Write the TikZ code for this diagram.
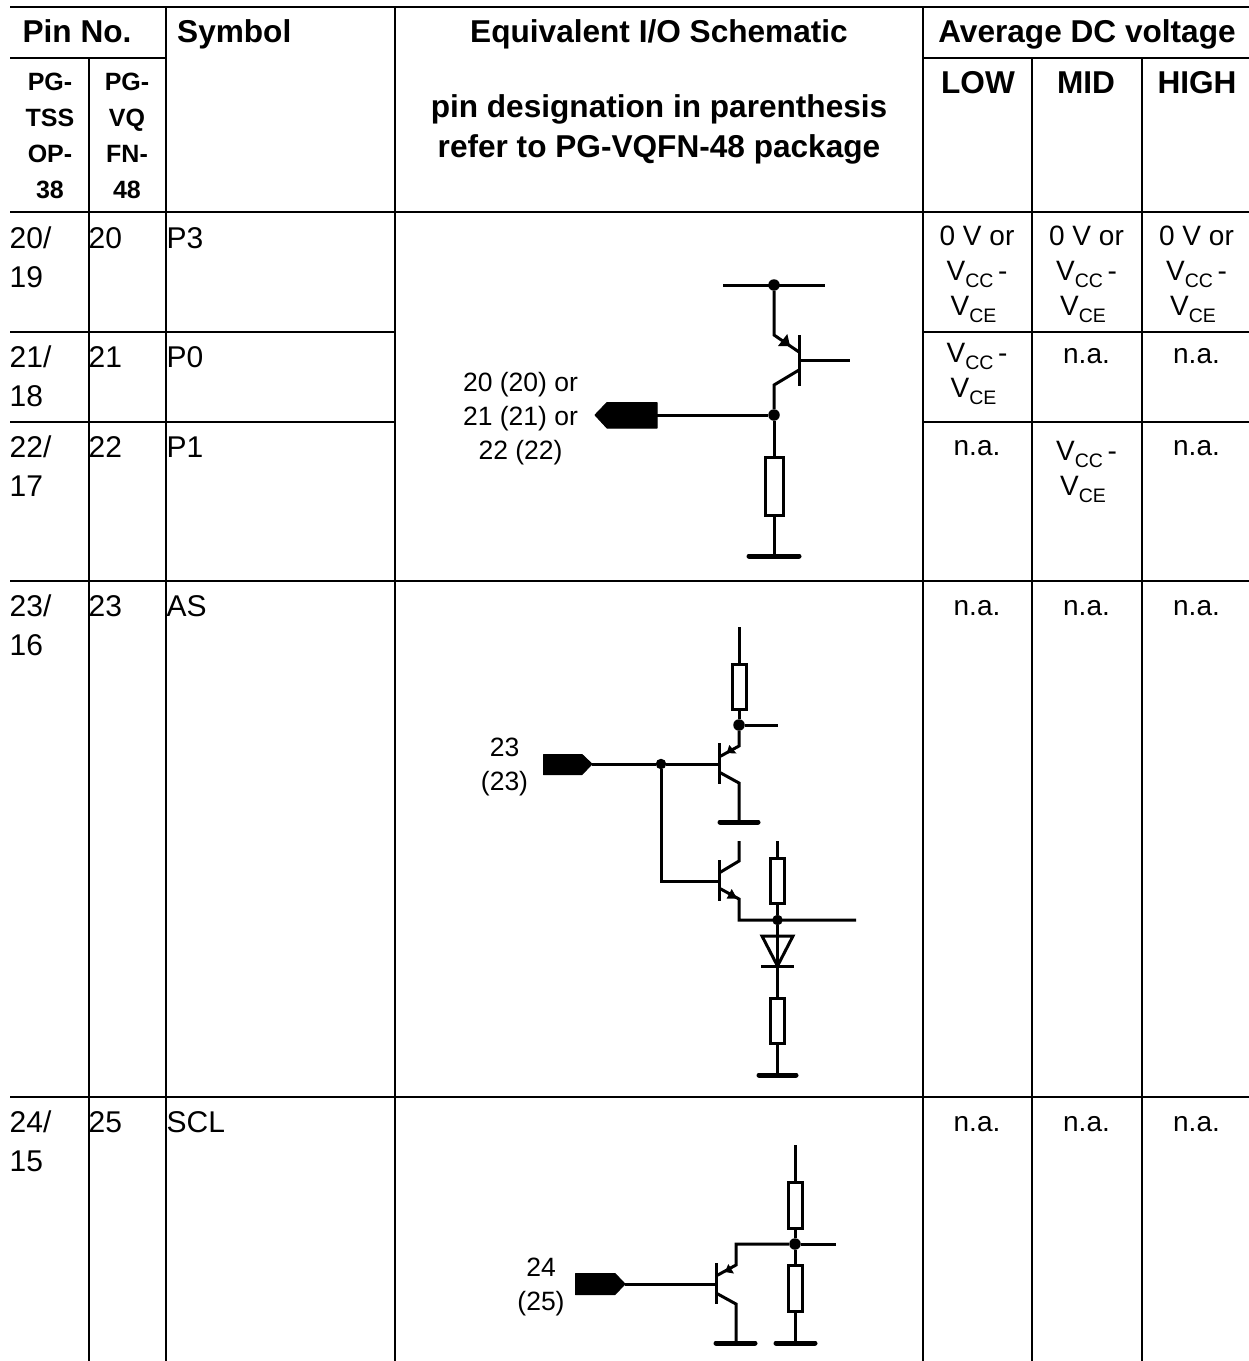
\documentclass[tikz,border=0pt]{standalone}
\usepackage{fontspec}
\setmainfont{Liberation Sans}
\usetikzlibrary{positioning}
\tikzset{
  wire/.style={line width=3pt},
  gridline/.style={line width=2.6pt},
  gnd/.style={line width=5pt,line cap=round},
  res/.style={draw,line width=3pt,fill=white,inner sep=0pt},
  junction/.style={circle,fill=black,inner sep=0pt,minimum size=11.5pt},
  smalljunction/.style={circle,fill=black,inner sep=0pt,minimum size=10.5pt},
  pinflag/.style={fill=black,draw=black,line width=1pt,line join=round},
  cell/.style={anchor=base west,inner sep=0pt,align=left,font=\fontsize{30}{38.7}\selectfont},
  volt/.style={anchor=base,inner sep=0pt,align=center,font=\fontsize{28}{35}\selectfont},
  headbig/.style={anchor=base,inner sep=0pt,align=center,font=\fontsize{31.6}{40}\selectfont\bfseries},
  headsmall/.style={anchor=base,inner sep=0pt,align=center,font=\fontsize{25}{35.7}\selectfont\bfseries},
  pinlabel/.style={anchor=base,inner sep=0pt,align=center,font=\fontsize{26.5}{34}\selectfont},
}
\newcommand{\subtxt}[1]{\raisebox{-7pt}{\fontsize{19.5}{20}\selectfont #1}}
\newcommand{\vcc}{V\subtxt{CC}\,-}
\newcommand{\vce}{V\subtxt{CE}\hspace*{7pt}}
\begin{document}
\begin{tikzpicture}[x=1pt,y=-1pt]
\useasboundingbox (0,0) rectangle (1249,1361);
% table
\foreach \yy in {7,212,581,1097} \draw[gridline] (10,\yy) -- (1249,\yy);
\foreach \yy in {332,422} {
  \draw[gridline] (10,\yy) -- (395,\yy);
  \draw[gridline] (923,\yy) -- (1249,\yy);
}
\draw[gridline] (10,58) -- (166,58);
\draw[gridline] (923,58) -- (1249,58);
\draw[gridline] (89,58) -- (89,1361);
\foreach \xx in {166,395,923} \draw[gridline] (\xx,7) -- (\xx,1361);
\foreach \xx in {1032,1142} \draw[gridline] (\xx,58) -- (\xx,1361);
% header
\node[headbig] (pinno) at (77,42) {Pin No.};
\node[headbig,anchor=base west] (symbol) at (177,42) {Symbol};
\node[headbig] (schem) at (659,42) {Equivalent I/O Schematic};
\node[headbig] (note) at (659,157) {pin designation in parenthesis\\refer to PG-VQFN-48 package};
\node[headbig] (avg) at (1087,42) {Average DC voltage};
\node[headbig] (low) at (978,93) {LOW};
\node[headbig] (mid) at (1086,93) {MID};
\node[headbig] (high) at (1197,93) {HIGH};
\node[headsmall] (tssop) at (50,198) {PG-\\TSS\\OP-\\38};
\node[headsmall] (vqfn) at (127,198) {PG-\\VQ\\FN-\\48};
% rows
\node[cell] (r1a) at (9.5,287) {20/\\19};
\node[cell] (r1b) at (88.5,248) {20};
\node[cell] (r1c) at (166.5,248) {P3};
\node[cell] (r2a) at (9.5,406) {21/\\18};
\node[cell] (r2b) at (88.5,367) {21};
\node[cell] (r2c) at (166.5,367) {P0};
\node[cell] (r3a) at (9.5,496) {22/\\17};
\node[cell] (r3b) at (88.5,457) {22};
\node[cell] (r3c) at (166.5,457) {P1};
\node[cell] (r4a) at (9.5,655) {23/\\16};
\node[cell] (r4b) at (88.5,616) {23};
\node[cell] (r4c) at (166.5,616) {AS};
\node[cell] (r5a) at (9.5,1171) {24/\\15};
\node[cell] (r5b) at (88.5,1132) {25};
\node[cell] (r5c) at (166.5,1132) {SCL};
% voltages
\foreach \xx/\nm in {977/a,1086.5/b,1196.5/c}
  \node[volt] (v1\nm) at (\xx,315) {0 V or\\\vcc\\\vce};
\node[volt] (v2a) at (977,397) {\vcc\\\vce};
\node[volt] (v2b) at (1086.5,363) {n.a.};
\node[volt] (v2c) at (1196.5,363) {n.a.};
\node[volt] (v3a) at (977,455) {n.a.};
\node[volt] (v3b) at (1086.5,495) {\vcc\\\vce};
\node[volt] (v3c) at (1196.5,455) {n.a.};
\foreach \xx/\nm in {977/a,1086.5/b,1196.5/c} {
  \node[volt] (v4\nm) at (\xx,615) {n.a.};
  \node[volt] (v5\nm) at (\xx,1131) {n.a.};
}
% circuit P3 P0 P1
\node[junction] (d1) at (774,285) {};
\node[junction] (d2) at (774,415) {};
\coordinate (railL) at (723,285);
\coordinate (railR) at (825,285);
\draw[wire] (railL) -- (railR);
\draw[wire] (d1) -- (774,335) -- (799,352);
\draw[wire] (799,335) -- (799,386);
\draw[wire] (799,360) -- (850,360);
\draw[wire] (799,370) -- (774,385) -- (d2);
\fill (787.3,334) -- (778,346) -- (790,346) -- cycle;
\draw[pinflag] (595,415) -- (607,402.5) -- (657,402.5) -- (657,428) -- (607,428) -- cycle;
\draw[wire] (657,415) -- (d2);
\node[res,minimum width=18pt,minimum height=58pt] (r1) at (774,486) {};
\draw[wire] (d2) -- (r1);
\draw[wire] (r1) -- (774,556);
\draw[gnd] (749,556) -- (799,556);
\node[pinlabel] (lab1) at (520.5,459) {20 (20) or\\21 (21) or\\22 (22)};
% circuit AS
\node[res,minimum width=14pt,minimum height=45pt] (r2) at (739,686.5) {};
\node[junction] (d3) at (739,725) {};
\node[smalljunction] (d4) at (661,764) {};
\draw[wire] (739,627) -- (r2);
\draw[wire] (r2) -- (d3) -- (778,725);
\draw[wire] (d3) -- (739,746) -- (719,757);
\fill (729.3,745) -- (726.7,753) -- (736.5,753.5) -- cycle;
\draw[wire] (719,743) -- (719,784);
\draw[pinflag] (543.5,754.5) -- (582,754.5) -- (592,764) -- (582,774.5) -- (543.5,774.5) -- cycle;
\draw[wire] (592,764) -- (d4) -- (719,764);
\draw[wire] (719,772) -- (739,783) -- (739,822);
\draw[gnd] (720,822) -- (758,822);
\draw[wire] (d4) -- (661,881) -- (719,881);
\draw[wire] (719,860) -- (719,901);
\draw[wire] (739,841) -- (739,861) -- (719,873);
\node[smalljunction] (d5) at (777.5,920) {};
\draw[wire] (719,888) -- (739,899) -- (739,920) -- (856,920);
\fill (731.7,889) -- (726.7,898.5) -- (737,898.5) -- cycle;
\node[res,minimum width=14pt,minimum height=45pt] (r3) at (777.5,880.5) {};
\draw[wire] (777.5,841) -- (r3);
\draw[wire] (r3) -- (d5);
\draw[wire] (d5) -- (777.5,997);
\draw[wire] (762,936) -- (793,936) -- (777.5,966) -- cycle;
\draw[wire] (761,966) -- (794,966);
\node[res,minimum width=14pt,minimum height=45pt] (r4) at (777.5,1020.5) {};
\draw[wire] (r4) -- (777.5,1075);
\draw[gnd] (759,1075) -- (796,1075);
\node[pinlabel] (lab2) at (504.5,790) {23\\(23)};
% circuit SCL
\node[res,minimum width=14pt,minimum height=46pt] (r5) at (795,1205) {};
\node[res,minimum width=14pt,minimum height=46pt] (r6) at (795,1288) {};
\node[junction] (d6) at (795,1244) {};
\draw[wire] (795,1145) -- (r5);
\draw[wire] (r5) -- (d6) -- (r6);
\draw[wire] (r6) -- (795,1343);
\draw[wire] (d6) -- (836,1244);
\draw[wire] (d6) -- (736,1244) -- (736,1265) -- (716,1276);
\fill (728.3,1264) -- (725,1272) -- (734,1273.5) -- cycle;
\draw[wire] (716,1263) -- (716,1304);
\draw[pinflag] (575.5,1273.5) -- (615,1273.5) -- (625,1284) -- (615,1294.5) -- (575.5,1294.5) -- cycle;
\draw[wire] (625,1284) -- (716,1284);
\draw[wire] (716,1293) -- (736,1304) -- (736,1343);
\draw[gnd] (716,1343) -- (755,1343);
\draw[gnd] (776,1343) -- (815,1343);
\node[pinlabel] (lab3) at (541,1310) {24\\(25)};
\end{tikzpicture}
\end{document}
